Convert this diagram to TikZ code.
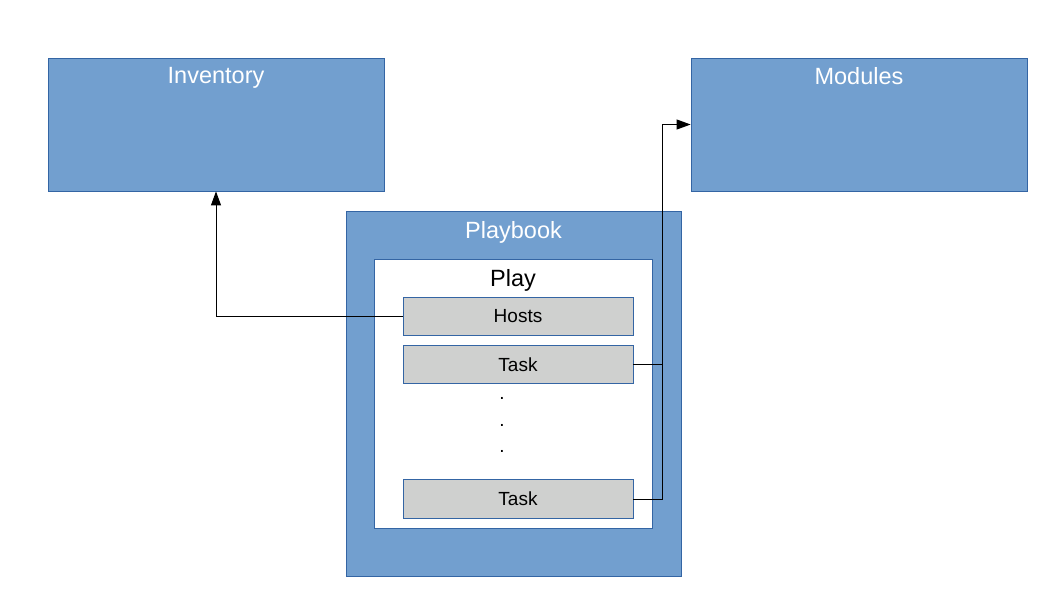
\documentclass[tikz,border=0pt]{standalone}
\usepackage{fontspec}
\setmainfont{Liberation Sans}
\usetikzlibrary{positioning,arrows.meta,calc}
\definecolor{boxblue}{HTML}{729FCF}
\definecolor{edgeblue}{HTML}{3465A4}
\definecolor{stepgray}{HTML}{CFD0CF}

\begin{document}
\begin{tikzpicture}[
    x=1pt, y=-1pt,
    outer/.style={draw=edgeblue, fill=boxblue, rectangle, inner sep=0pt, line width=0.8pt},
    title/.style={inner sep=0pt, text=white, font=\fontsize{23.5}{26}\selectfont},
    item/.style={draw=edgeblue, fill=stepgray, rectangle, inner sep=0pt, line width=0.8pt,
                 minimum width=230pt, minimum height=38.5pt, font=\fontsize{19}{22}\selectfont},
    gap/.style={inner sep=0pt, anchor=base, font=\fontsize{19}{22}\selectfont},
    link/.style={draw=black, line width=1pt},
    tip/.style={-{Triangle[length=14pt, width=10pt]}}
]
    \useasboundingbox (0,0) rectangle (1058,595);

    % Top blocks
    \node[outer, minimum width=336pt, minimum height=133pt] (inv) at (216,124.5) {};
    \node[title, below=10pt of inv.north] (invtitle) {Inventory};
    \node[outer, minimum width=336pt, minimum height=133pt] (mod) at (859,124.5) {};
    \node[title, below=10pt of mod.north] (modtitle) {Modules};

    % Playbook and play
    \node[outer, minimum width=335pt, minimum height=365pt] (pb) at (513.5,393.5) {};
    \node[title, below=10.5pt of pb.north] (pbtitle) {Playbook};
    \node[outer, fill=white, minimum width=278pt, minimum height=269pt] (play) at (513,393.5) {};
    \node[title, text=black, below=11pt of play.north] (playtitle) {Play};

    % Hosts and tasks
    \node[item] (hosts) at (518,316.5) {Hosts};
    \node[item] (task1) at (518,364.5) {Task};
    \node[gap] (dot1) at (502,399) {.};
    \node[gap] (dot2) at (502,426) {.};
    \node[gap] (dot3) at (502,452) {.};
    \node[item] (task2) at (518,499) {Task};

    % Connectors
    \coordinate (bend) at (662.5,364.5);
    \draw[link, tip] (hosts.west) -| (inv.south);
    \draw[link] (task1.east) -- (bend);
    \draw[link, tip] (task2.east) -| (bend) |- (mod.west);
\end{tikzpicture}
\end{document}
